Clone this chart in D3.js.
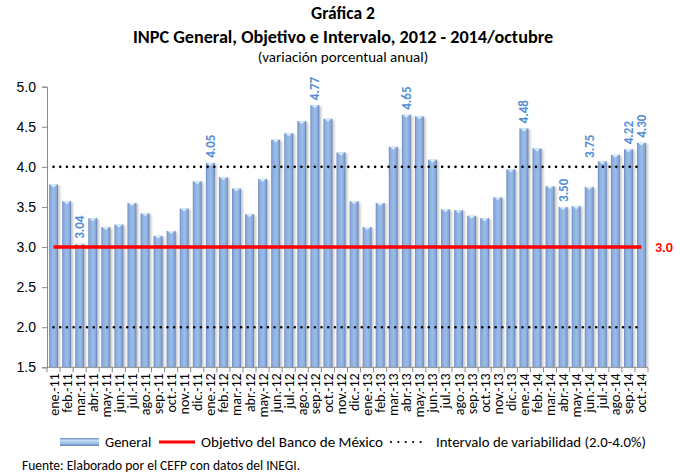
<!DOCTYPE html>
<html><head><meta charset="utf-8">
<script src="https://cdn.jsdelivr.net/npm/d3@7"></script>
<style>
html,body{margin:0;padding:0;background:#fff;}
svg{display:block;font-family:Carlito,Calibri,Lato,"Open Sans",sans-serif;}
</style></head>
<body>
<script>
const categories = [
 "ene.-11","feb.-11","mar.-11","abr.-11","may.-11","jun.-11","jul.-11","ago.-11","sep.-11","oct.-11","nov.-11","dic.-11",
 "ene.-12","feb.-12","mar.-12","abr.-12","may.-12","jun.-12","jul.-12","ago.-12","sep.-12","oct.-12","nov.-12","dic.-12",
 "ene.-13","feb.-13","mar.-13","abr.-13","may.-13","jun.-13","jul.-13","ago.-13","sep.-13","oct.-13","nov.-13","dic.-13",
 "ene.-14","feb.-14","mar.-14","abr.-14","may.-14","jun.-14","jul.-14","ago.-14","sep.-14","oct.-14"];
const generalValues = [
 3.78,3.57,3.04,3.36,3.25,3.28,3.55,3.42,3.14,3.20,3.48,3.82,
 4.05,3.87,3.73,3.41,3.85,4.34,4.42,4.57,4.77,4.60,4.18,3.57,
 3.25,3.55,4.25,4.65,4.63,4.09,3.47,3.46,3.39,3.36,3.62,3.97,
 4.48,4.23,3.76,3.50,3.51,3.75,4.07,4.15,4.22,4.30];
const labeledMonths = ["mar.-11","ene.-12","sep.-12","abr.-13","ene.-14","abr.-14","jun.-14","sep.-14","oct.-14"];
const objetivo = 3.0;
const intervalo = [2.0, 4.0];
const yTicks = [1.5,2.0,2.5,3.0,3.5,4.0,4.5,5.0];
const titleLines = ["Gráfica 2","INPC General, Objetivo e Intervalo, 2012 - 2014/octubre","(variación porcentual anual)"];
const legendLabels = ["General","Objetivo del Banco de México","Intervalo de variabilidad (2.0-4.0%)"];
const sourceText = "Fuente: Elaborado por el CEFP con datos del INEGI.";

const W = 681, H = 474;
const svg = d3.select("body").append("svg").attr("width",W).attr("height",H);
const defs = svg.append("defs");
const grad = defs.append("linearGradient").attr("id","barGrad").attr("x1","0").attr("x2","1").attr("y1","0").attr("y2","0");
grad.append("stop").attr("offset","0").attr("stop-color","#6888bd");
grad.append("stop").attr("offset","0.18").attr("stop-color","#8aaddf");
grad.append("stop").attr("offset","0.55").attr("stop-color","#9dbde9");
grad.append("stop").attr("offset","0.85").attr("stop-color","#84a7da");
grad.append("stop").attr("offset","1").attr("stop-color","#5a7bb0");
const lg = defs.append("linearGradient").attr("id","legGrad").attr("x1","0").attr("x2","0").attr("y1","0").attr("y2","1");
lg.append("stop").attr("offset","0").attr("stop-color","#6d8fc4");
lg.append("stop").attr("offset","0.3").attr("stop-color","#c6dcf5");
lg.append("stop").attr("offset","0.7").attr("stop-color","#9dbde9");
lg.append("stop").attr("offset","1").attr("stop-color","#5f80b5");
const blur = defs.append("filter").attr("id","shadow").attr("x","-50%").attr("y","-10%").attr("width","200%").attr("height","120%");
blur.append("feGaussianBlur").attr("stdDeviation","1");

const x0 = 47, x1 = 648, yTop = 86.7, yBot = 367.3;
const x = d3.scaleBand().domain(categories).range([x0,x1]).paddingInner(0.32).paddingOuter(0.16);
const y = d3.scaleLinear().domain([1.5,5]).range([yBot,yTop]);

// title
const tf = [17.5,18.2,15], tw = ["bold","bold","normal"], ty = [19,43,62];
titleLines.forEach((t,i)=>{
  svg.append("text").attr("x",343).attr("y",ty[i]).attr("text-anchor","middle")
    .attr("font-size",tf[i]).attr("font-weight",tw[i]).attr("fill","#000").text(t);
});

// bars shadows
const data = categories.map((c,i)=>({c, v: generalValues[i]}));
svg.append("g").selectAll("rect").data(data).join("rect")
  .attr("x",d=>x(d.c)+2).attr("y",d=>y(d.v)+1).attr("width",x.bandwidth()).attr("height",d=>yBot-y(d.v)-1)
  .attr("fill","#9a9a9a").attr("opacity",0.55).attr("filter","url(#shadow)");
svg.append("g").selectAll("rect").data(data).join("rect")
  .attr("x",d=>x(d.c)).attr("y",d=>y(d.v)).attr("width",x.bandwidth()).attr("height",d=>yBot-y(d.v))
  .attr("fill","url(#barGrad)");
// bevel highlight at top
svg.append("g").selectAll("path").data(data).join("path")
  .attr("d",d=>{const l=x(d.c), w=x.bandwidth(), t=y(d.v);
    return `M${l+1},${t} L${l+w-1},${t} L${l+w/2},${t+3} Z`;})
  .attr("fill","#d8ecfb");

// axes
const yAxis = d3.axisLeft(y).tickValues(yTicks).tickFormat(d3.format(".1f")).tickSize(5).tickPadding(6);
const gy = svg.append("g").attr("transform",`translate(${x0},0)`).call(yAxis);
gy.select(".domain").attr("stroke","#8a8a8a");
gy.selectAll(".tick line").attr("stroke","#8a8a8a");
gy.selectAll(".tick text").attr("font-size",14).attr("fill","#000").attr("font-family","inherit");

const gx = svg.append("g").attr("transform",`translate(0,${yBot})`);
gx.append("line").attr("x1",x0).attr("x2",x1).attr("stroke","#8a8a8a");
const step = x.step();
const bounds = categories.map((c,i)=> x(c) - step*x.paddingInner()/2);
bounds.push(x1);
gx.selectAll("line.tk").data(bounds).join("line").attr("class","tk")
  .attr("x1",d=>d).attr("x2",d=>d).attr("y1",0).attr("y2",5).attr("stroke","#8a8a8a");
gx.selectAll("text").data(categories).join("text")
  .attr("transform",d=>`translate(${x(d)+x.bandwidth()/2+5},6) rotate(-90)`)
  .attr("text-anchor","end").attr("font-size",14).attr("fill","#000").text(d=>d);

// reference lines
const lx1 = x(categories[0]) + x.bandwidth()/2, lx2 = x(categories[categories.length-1]) + x.bandwidth()/2;
intervalo.forEach(v=>{
  svg.append("line").attr("x1",lx1).attr("x2",lx2).attr("y1",y(v)).attr("y2",y(v))
    .attr("stroke","#000").attr("stroke-width",2.6).attr("stroke-linecap","round").attr("stroke-dasharray","0,6.7");
});
svg.append("line").attr("x1",lx1).attr("x2",lx2).attr("y1",y(objetivo)).attr("y2",y(objetivo))
  .attr("stroke","#ff0000").attr("stroke-width",3.6);
svg.append("text").attr("x",655).attr("y",y(objetivo)+5).attr("font-size",14).attr("font-weight","bold")
  .attr("fill","#ff0000").text(d3.format(".1f")(objetivo));

// data labels
const lab = data.filter(d=>labeledMonths.includes(d.c));
svg.append("g").selectAll("text").data(lab).join("text")
  .attr("transform",d=>{
    const extra = d.c==="jun.-14" ? 24 : 0;
    return `translate(${x(d.c)+x.bandwidth()/2+4.5},${y(d.v)-5-extra}) rotate(-90)`;})
  .attr("font-size",13).attr("font-weight","bold").attr("fill","#558ed5").text(d=>d3.format(".2f")(d.v));

// legend
const ly = 442;
svg.append("rect").attr("x",60).attr("y",ly-4).attr("width",39).attr("height",8).attr("fill","url(#legGrad)");
svg.append("text").attr("x",105).attr("y",ly+5).attr("font-size",14.5).text(legendLabels[0]);
svg.append("line").attr("x1",159).attr("x2",195).attr("y1",ly).attr("y2",ly).attr("stroke","#ff0000").attr("stroke-width",3);
svg.append("text").attr("x",201).attr("y",ly+5).attr("font-size",14.5)
  .attr("textLength",182).attr("lengthAdjust","spacingAndGlyphs").text(legendLabels[1]);
svg.append("line").attr("x1",391).attr("x2",428).attr("y1",ly).attr("y2",ly).attr("stroke","#000").attr("stroke-width",2.2)
  .attr("stroke-linecap","round").attr("stroke-dasharray","0,7.4");
svg.append("text").attr("x",436).attr("y",ly+5).attr("font-size",14.5)
  .attr("textLength",210).attr("lengthAdjust","spacingAndGlyphs").text(legendLabels[2]);

svg.append("text").attr("x",22).attr("y",470).attr("font-size",13.5).text(sourceText);
</script>
</body></html>
